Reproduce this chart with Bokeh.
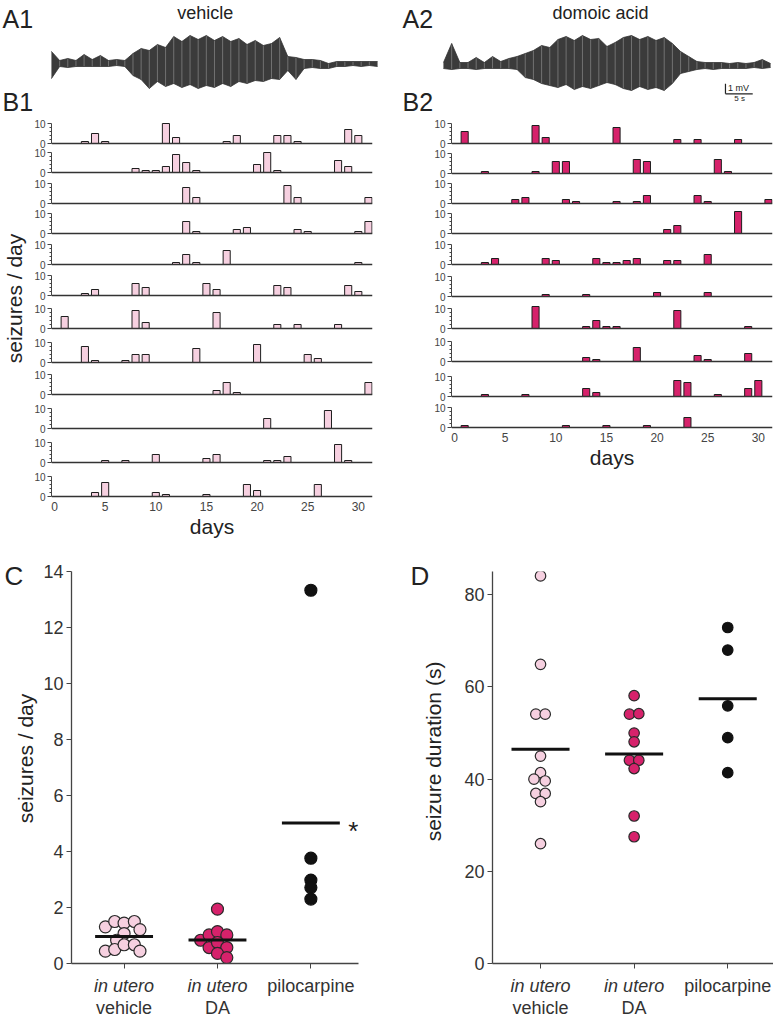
import math
import numpy as np
from bokeh.plotting import figure
from bokeh.layouts import row, column
from bokeh.models import Span, Label, FixedTicker, Range1d
from bokeh.embed import file_html
from bokeh.resources import INLINE

FONT = "Liberation Sans"
INK = "#222222"
PINK = "#f6d0e0"
MAGENTA = "#d6226b"

# ---------------- data: A (EEG envelope, mV, read at 1.5 s steps) ----------------
trace_t = [0, 1.5, 3, 4.5, 6, 7.5, 9, 10.5, 12, 13.5, 15, 16.5, 18, 19.5, 21, 22.5,
           24, 25.5, 27, 28.5, 30, 31.5, 33, 34.5, 36, 37.5, 39, 40.5, 42, 43.5, 45,
           46.5, 48, 49.5, 51, 52.5, 54, 55.5, 57, 58.5, 60]
a1_hi = [1.2, 0.3, 0.5, 0.3, 0.9, 0.4, 0.8, 0.3, 0.4, 0.3, 1.0, 1.5, 1.3, 1.9, 1.6, 2.7,
         2.2, 2.8, 2.4, 2.8, 2.3, 2.7, 2.2, 2.5, 1.9, 2.3, 1.8, 2.0, 2.6, 0.7, 0.6, 0.4,
         0.4, 0.3, 0.0, 0.2, 0.2, 0.2, 0.2, 0.2, 0.2]
a1_lo = [-1.5, -0.3, -0.4, -0.3, -0.3, -0.3, -0.3, -0.3, -0.2, -0.3, -1.2, -1.6, -2.5,
         -1.8, -2.3, -2.0, -2.4, -2.1, -2.5, -2.2, -2.4, -2.0, -2.3, -1.8, -2.0, -1.7,
         -1.8, -1.5, -1.6, -0.7, -1.6, -0.5, -0.4, -0.5, -0.5, -0.3, -0.3, -0.2, -0.3,
         -0.2, -0.3]
a2_hi = [0.3, 2.2, 0.3, 0.3, 0.8, 0.3, 0.9, 0.4, 0.7, 0.9, 1.2, 1.5, 2.0, 1.8, 2.6, 2.9,
         2.5, 3.0, 2.6, 2.7, 1.9, 2.3, 2.8, 3.0, 2.6, 2.9, 2.5, 2.8, 2.2, 1.4, 0.9, 0.4,
         0.3, 0.3, 0.3, 0.2, 0.3, 0.2, 0.3, 0.6, 0.2]
a2_lo = [-0.3, -0.4, -0.3, -0.3, -0.4, -0.3, -0.3, -0.3, -0.3, -0.4, -1.2, -1.4, -1.8,
         -2.0, -2.2, -1.9, -2.4, -2.1, -2.3, -2.0, -1.7, -1.9, -2.3, -2.5, -2.1, -2.4,
         -2.2, -2.5, -1.8, -0.8, -0.6, -0.4, -0.3, -0.4, -0.3, -0.3, -0.3, -0.3, -0.2,
         -0.3, -0.2]
scale_mv = 1.0
scale_s = 5.0

# ---------------- data: B (seizures per day, per animal) ----------------
day_ticks = [0, 5, 10, 15, 20, 25, 30]
b1_days = [
    [3, 4, 5, 11, 12, 17, 18, 22, 23, 24, 29, 30],
    [8, 9, 10, 11, 12, 13, 14, 20, 21, 22, 28, 29],
    [13, 14, 23, 24, 31],
    [13, 14, 18, 19, 24, 25, 30, 31],
    [12, 13, 14, 17, 30],
    [3, 4, 8, 9, 15, 16, 22, 23, 29, 30],
    [1, 8, 9, 16, 22, 24, 28],
    [3, 4, 7, 8, 9, 14, 20, 25, 26],
    [16, 17, 18, 31],
    [21, 27],
    [5, 7, 10, 15, 16, 21, 22, 23, 28, 29],
    [4, 5, 10, 11, 15, 19, 20, 26],
]
b1_counts = [
    [1, 5, 1, 10, 3, 1, 4, 4, 4, 1, 7, 4],
    [2, 1, 1, 3, 9, 5, 1, 4, 10, 1, 6, 3],
    [8, 3, 9, 3, 3],
    [6, 1, 2, 3, 2, 1, 1, 6],
    [1, 5, 1, 7, 1],
    [1, 3, 6, 4, 6, 3, 5, 4, 5, 2],
    [6, 9, 3, 8, 2, 2, 2],
    [8, 1, 1, 4, 4, 7, 9, 4, 2],
    [2, 6, 1, 6],
    [5, 9],
    [1, 1, 4, 2, 4, 1, 1, 3, 9, 1],
    [2, 7, 2, 1, 1, 6, 3, 6],
]
b2_days = [
    [1, 8, 9, 16, 22, 24, 28],
    [3, 8, 10, 11, 18, 19, 26, 27],
    [6, 7, 11, 12, 16, 18, 19, 24, 25, 31],
    [21, 22, 28],
    [3, 4, 9, 10, 14, 15, 16, 17, 18, 21, 22, 25],
    [9, 13, 20, 25],
    [8, 13, 14, 15, 16, 22, 29],
    [13, 14, 18, 24, 25, 29],
    [3, 7, 13, 14, 22, 23, 26, 29, 30],
    [1, 11, 15, 19, 23],
]
b2_counts = [
    [6, 9, 3, 8, 2, 2, 2],
    [1, 1, 6, 6, 7, 6, 7, 1],
    [2, 3, 2, 1, 1, 1, 4, 4, 1, 2],
    [2, 4, 11],
    [1, 3, 3, 2, 3, 1, 1, 2, 3, 2, 2, 5],
    [1, 1, 2, 2],
    [11, 1, 4, 1, 1, 9, 1],
    [2, 1, 7, 3, 1, 4],
    [1, 1, 4, 2, 8, 7, 1, 4, 8],
    [1, 1, 1, 1, 5],
]

# ---------------- data: C (seizures / day) and D (seizure duration, s) ----------------
group_pos = [1, 2, 3]
c_vehicle = [1.31, 1.50, 1.44, 1.50, 1.21, 1.07, 0.83, 0.44, 0.50, 0.67, 0.67, 0.44]
c_vehicle_jit = [-0.20, -0.10, 0.0, 0.11, 0.17, 0.0, -0.08, -0.20, -0.10, 0.0, 0.11, 0.17]
c_da = [1.94, 0.83, 1.02, 1.14, 1.02, 0.57, 0.75, 0.57, 0.36, 0.21]
c_da_jit = [0.0, -0.18, -0.09, 0.0, 0.10, -0.09, 0.0, 0.10, 0.0, 0.10]
c_pilo = [13.33, 3.76, 2.98, 2.71, 2.30]
c_ticks = [0, 2, 4, 6, 8, 10, 12, 14]

d_vehicle = [84.1, 64.9, 54.1, 54.1, 45.0, 41.4, 40.0, 39.6, 36.9, 36.9, 35.1, 26.0]
d_vehicle_jit = [0, 0, -0.05, 0.05, 0, 0, -0.07, 0.05, -0.05, 0.05, 0, 0]
d_da = [58.1, 54.1, 54.2, 50.0, 48.1, 44.1, 44.1, 42.3, 32.0, 27.5]
d_da_jit = [0, -0.05, 0.05, 0, 0, -0.05, 0.05, 0, 0, 0]
d_pilo = [72.9, 68.0, 55.9, 49.0, 41.4]
d_ticks = [0, 20, 40, 60, 80]


# ---------------- helpers ----------------
def base_fig(width, height, xr, yr, **kw):
    p = figure(width=width, height=height, x_range=Range1d(*xr), y_range=Range1d(*yr),
               output_backend="svg", toolbar_location=None, **kw)
    p.outline_line_color = None
    p.grid.visible = False
    p.background_fill_color = "white"
    p.border_fill_color = "white"
    return p


def blank(width, height, xr, yr, ml=0, mr=0):
    p = base_fig(width, height, xr, yr, x_axis_location=None, y_axis_location=None,
                 min_border=0)
    p.min_border_left = ml
    p.min_border_right = mr
    return p


def lab(p, x, y, text, size, align="left", baseline="middle", style="normal",
        angle=0.0, color=INK):
    p.add_layout(Label(x=x, y=y, text=text, text_font=FONT, text_font_size=f"{size}px",
                       text_align=align, text_baseline=baseline, text_font_style=style,
                       angle=angle, text_color=color))


# ---------------- A: traces ----------------
TOP_H = 117


def trace_fig(width, hi, lo, xr, yr, panel, title, title_x, next_panel, panel_x):
    p = blank(width, TOP_H, xr, yr)
    p.varea(x=trace_t, y1=lo, y2=hi, fill_color="#262626", fill_alpha=0.9)
    p.segment(x0=trace_t, y0=lo, x1=trace_t, y1=hi, line_color="#8a8a8a", line_width=0.7)
    p.line(trace_t, hi, line_color="#333333", line_width=0.8)
    p.line(trace_t, lo, line_color="#333333", line_width=0.8)
    lab(p, panel_x, yr[1] - 1.8, panel, 25)
    lab(p, title_x, yr[1] - 1.2, title, 18, align="center")
    lab(p, panel_x, yr[1] - 10.1, next_panel, 25)
    return p


fa1 = trace_fig(390, a1_hi, a1_lo, (-9.387, 62.40), (-5.4, 6.3), "A1", "vehicle", 28.3,
                "B1", -9.02)
fa2 = trace_fig(385, a2_hi, a2_lo, (-9.725, 60.92), (-5.2, 6.5), "A2", "domoic acid", 28.8,
                "B2", -7.52)
# scale bar
sb_x, sb_y = 51.74, -2.83
fa2.segment(x0=[sb_x, sb_x], y0=[sb_y, sb_y], x1=[sb_x, sb_x + scale_s],
            y1=[sb_y + scale_mv, sb_y], line_color=INK, line_width=1.2)
lab(fa2, sb_x + 0.45, sb_y + 0.62, f"{scale_mv:g} mV", 9)
lab(fa2, sb_x + scale_s / 2 + 0.1, sb_y - 0.42, f"{scale_s:g} s", 8, align="center")

# ---------------- B: daily seizure bars ----------------
PX_PER_COUNT = 2.0
B_TOP = 117
B_BOTTOM = 559
b1_base = [143, 172, 203, 233, 264, 295, 328, 362, 394, 428, 462, 496]
b2_base = [143, 173, 203, 233, 264, 296, 328, 361, 396, 427]


def b_panel(days_rows, count_rows, bases, fill, ml, fw, mr):
    figs = []
    top = bases[0] - 26
    n = len(bases)
    for i, (d, c) in enumerate(zip(days_rows, count_rows)):
        last = i == n - 1
        below = 3 if last else 5
        bottom = bases[i] + below
        fh = bottom - top
        mb = B_BOTTOM - bottom if last else 0
        y0 = -below / PX_PER_COUNT
        p = base_fig(ml + fw + mr, fh + mb, (-0.3, 31.4), (y0, y0 + fh / PX_PER_COUNT),
                     x_axis_location="below" if last else None,
                     min_border_left=ml, min_border_right=mr, min_border_top=0,
                     min_border_bottom=mb)
        p.vbar(x=d, top=c, bottom=0, width=0.7, fill_color=fill, line_color="#1e1e1e",
               line_width=1)
        p.add_layout(Span(location=0, dimension="width", line_color="#333333",
                          line_width=1.6))
        ya = p.yaxis[0]
        ya.ticker = FixedTicker(ticks=[0, 10], minor_ticks=[2, 4, 6, 8])
        ya.bounds = (0, 10)
        ya.axis_line_color = "#444444"
        ya.major_tick_line_color = "#444444"
        ya.minor_tick_line_color = "#444444"
        ya.major_tick_out = 4
        ya.major_tick_in = 0
        ya.minor_tick_out = 2
        ya.minor_tick_in = 0
        ya.major_label_standoff = 2
        ya.major_label_text_font = FONT
        ya.major_label_text_font_size = "10px"
        ya.major_label_text_color = "#444444"
        if last:
            xa = p.xaxis[0]
            xa.ticker = FixedTicker(ticks=day_ticks)
            xa.axis_line_color = None
            xa.major_tick_line_color = None
            xa.minor_tick_line_color = None
            xa.major_tick_out = 0
            xa.major_tick_in = 0
            xa.minor_tick_out = 0
            xa.major_label_standoff = 2
            xa.major_label_text_font = FONT
            xa.major_label_text_font_size = "12px"
            xa.major_label_text_color = "#444444"
            xa.axis_label = "days"
            xa.axis_label_text_font = FONT
            xa.axis_label_text_font_size = "21px"
            xa.axis_label_text_font_style = "normal"
            xa.axis_label_text_color = INK
            xa.axis_label_standoff = 1
        figs.append(p)
        top = bottom
    return column(*figs)


LAB_W = 30
b_h = B_BOTTOM - B_TOP
flab = blank(LAB_W, b_h, (0, LAB_W), (0, b_h))
lab(flab, 14, b_h - (298 - B_TOP), "seizures / day", 21, align="center",
    baseline="middle", angle=math.pi / 2)

col_b1 = b_panel(b1_days, b1_counts, b1_base, PINK, 51 - LAB_W, 321, 18)
col_b2 = b_panel(b2_days, b2_counts, b2_base, MAGENTA, 61, 321, 1)

# ---------------- C / D: group scatter ----------------
CD_TOP = 559
MAIN_H = 415      # 12 top border + 392 frame + 11 bottom border
CAT_H = 44


def group_block(lab_w, ml, fw, mr, xr, yr, ticks, ylabel, ylabel_x, ylabel_y, series,
                size, panel, panel_x):
    width = ml + fw + mr
    p = base_fig(width, MAIN_H, xr, yr, min_border_left=ml, min_border_right=mr,
                 min_border_top=12, min_border_bottom=11)
    for pos, vals, jit, fill in series:
        xs = [pos + j for j in jit]
        line = "#111111" if fill == "#111111" else "#2a2a2a"
        p.scatter(xs, vals, marker="circle", size=size, fill_color=fill, line_color=line,
                  line_width=1.2)
    for pos, vals, jit, fill in series:
        m = float(np.mean(vals))
        p.segment(x0=[pos - 0.31], y0=[m], x1=[pos + 0.31], y1=[m], line_color="#111111",
                  line_width=3)
    xa = p.xaxis[0]
    xa.ticker = FixedTicker(ticks=group_pos)
    xa.major_label_overrides = {1: "", 2: "", 3: ""}
    xa.major_label_text_font_size = "1px"
    xa.major_label_standoff = 0
    xa.axis_line_color = "#444444"
    xa.axis_line_width = 1.3
    xa.major_tick_line_color = "#444444"
    xa.major_tick_out = 5
    xa.major_tick_in = 0
    xa.minor_tick_line_color = None
    xa.minor_tick_out = 0
    ya = p.yaxis[0]
    ya.ticker = FixedTicker(ticks=ticks)
    ya.axis_line_color = "#444444"
    ya.axis_line_width = 1.3
    ya.major_tick_line_color = "#444444"
    ya.major_tick_out = 5
    ya.major_tick_in = 0
    ya.minor_tick_line_color = None
    ya.minor_tick_out = 0
    ya.major_label_standoff = 3
    ya.major_label_text_font = FONT
    ya.major_label_text_font_size = "18px"
    ya.major_label_text_color = "#333333"

    # category labels below the axis (first line italic for the in utero groups)
    pc = blank(width, CAT_H, xr, (0, CAT_H), ml=ml, mr=mr)
    lab(pc, 1, CAT_H - 11, "in utero", 18, align="center", style="italic", color="#333333")
    lab(pc, 1, CAT_H - 33, "vehicle", 18, align="center", color="#333333")
    lab(pc, 2, CAT_H - 11, "in utero", 18, align="center", style="italic", color="#333333")
    lab(pc, 2, CAT_H - 33, "DA", 18, align="center", color="#333333")
    lab(pc, 3, CAT_H - 11, "pilocarpine", 18, align="center", color="#333333")

    # panel letter and y-axis title
    h = MAIN_H + CAT_H
    pl = blank(lab_w, h, (0, lab_w), (0, h))
    lab(pl, panel_x, h - (573 - CD_TOP) - 2, panel, 26)
    lab(pl, ylabel_x, h - (ylabel_y - CD_TOP), ylabel, 21, align="center",
        angle=math.pi / 2)
    return p, row(pl, column(p, pc))


fc, blk_c = group_block(40, 30, 288, 32, (0.437, 3.51), (0, 14), c_ticks,
                        "seizures / day", 25, 758,
                        [(1, c_vehicle, c_vehicle_jit, PINK), (2, c_da, c_da_jit, MAGENTA),
                         (3, c_pilo, [0] * len(c_pilo), "#111111")], 12, "C", 4)
lab(fc, 3.40, 4.72, "*", 26, baseline="alphabetic")

fd, blk_d = group_block(60, 42, 281, 0, (0.487, 3.489), (0, 85.05), d_ticks,
                        "seizure duration (s)", 43, 751,
                        [(1, d_vehicle, d_vehicle_jit, PINK), (2, d_da, d_da_jit, MAGENTA),
                         (3, d_pilo, [0] * len(d_pilo), "#111111")], 10.5, "D", 20)

layout = column(
    row(fa1, fa2),
    row(flab, col_b1, col_b2),
    row(blk_c, blk_d),
)

open("out.html", "w").write(file_html(layout, INLINE))
